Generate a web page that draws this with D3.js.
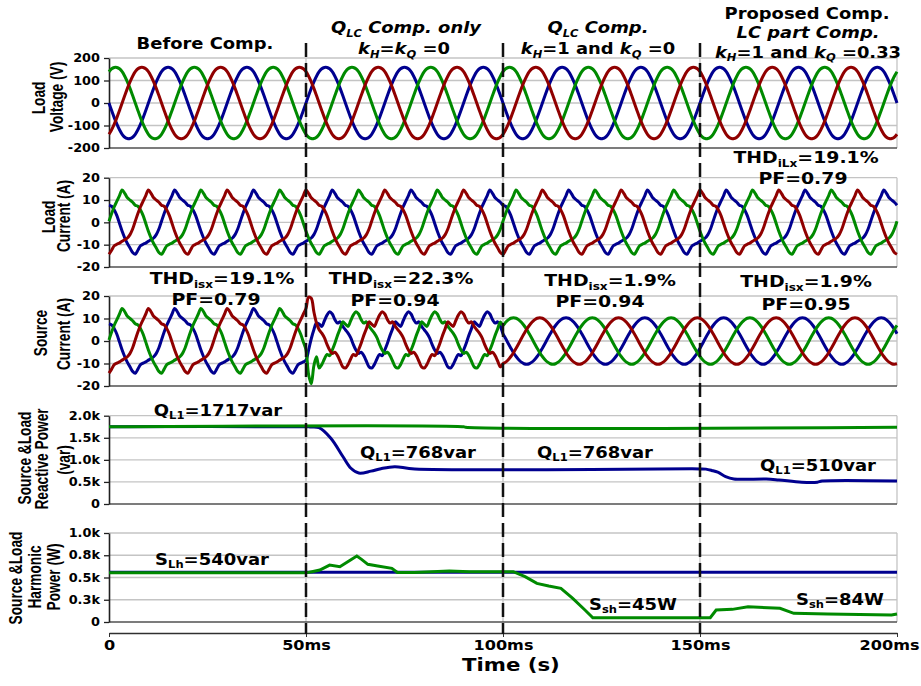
<!DOCTYPE html>
<html>
<head>
<meta charset="utf-8">
<title>Compensation waveforms</title>
<script src="https://cdn.jsdelivr.net/npm/d3@7"></script>
<style>
  body { margin: 0; background: #fff; }
  svg text { font-family: "DejaVu Sans", Verdana, sans-serif; font-weight: bold; fill: #000; }
</style>
</head>
<body>
<script>
// one 20 ms period of phase a, one sample every 20/30 ms
const voltageCycle = [0, -33, -65, -94, -119, -139, -152, -158, -158, -152, -139, -119, -94, -65, -33,
                      0, 33, 65, 94, 119, 139, 152, 158, 158, 152, 139, 119, 94, 65, 33];
const loadCurrentCycle = [7.7, 7.2, 5.5, 3, -0.5, -4, -7, -9.5, -11.5, -13.5, -14.3, -12.5, -10.5, -9.8, -9.3,
                          -8.5, -7.8, -7, -5.5, -3, 0.5, 4, 7, 9.5, 12, 14.5, 13, 11, 10, 9];
const sourceQlcCycle = [5, 3.5, 1.5, -1.5, -4, -5.5, -5, -6.5, -9, -11.5, -12, -10.5, -8, -6, -6.5,
                        -4, -1, 2.5, 5.5, 8.5, 7.5, 6.5, 9, 11.5, 13, 12, 9.5, 8, 8.5, 6.5];
const sourceSineCycle = [3.2, 1.1, -1.1, -3.2, -5.2, -6.9, -8.3, -9.4, -10.1, -10.3, -10.1, -9.4, -8.3, -6.9, -5.2,
                         -3.2, -1.1, 1.1, 3.2, 5.2, 6.9, 8.3, 9.4, 10.1, 10.3, 10.1, 9.4, 8.3, 6.9, 5.2];

// switching transient of the source current, 50 .. 52.67 ms
const transientBlue  = [-8.5, -4, 1, 5, 8];
const transientGreen = [-4, -15, -19, -11, -7];
const transientRed   = [14.5, 19.5, 19, 13, 8];

// reactive power (var)
const reactiveSourceTime = [0, 50, 51, 53.3, 56.3, 59.4, 61.4, 63.4, 66.5, 69, 72.5, 77.6, 150, 151.5, 153, 154.5, 156.5, 158.6, 166.8, 170, 175.8, 179.8, 181, 200];
const reactiveSource     = [1750, 1750, 1745, 1730, 1490, 1070, 810, 700, 745, 800, 845, 795, 795, 790, 760, 720, 620, 566, 566, 545, 495, 495, 520, 520];
const reactiveLoadTime = [0, 90, 90.5, 200];
const reactiveLoad     = [1750, 1750, 1738, 1738];

// harmonic power (W)
const harmonicLoadTime = [0, 200];
const harmonicLoad     = [558, 558];
const harmonicSourceTime = [0, 50, 51.5, 53.5, 56, 58.6, 60.6, 62.9, 64.1, 65.7, 68.2, 71.8, 73.2, 77.5, 86.4, 91.5, 102.6, 105.6, 108.6, 111.6, 114.7, 117.7, 120.8, 122.8, 152.6, 154.1, 158.2, 162.2, 170.3, 173.8, 182.4, 198.6, 200];
const harmonicSource     = [552, 552, 565, 584, 640, 621, 678, 742, 704, 648, 629, 603, 556, 556, 573, 566, 566, 509, 434, 404, 378, 266, 135, 48, 48, 135, 142, 172, 154, 97, 90, 79, 90];

const timeTicks = [0, 50, 100, 150, 200];
const switchTimes = [50, 100, 150];

const w = 921, h = 686;
const SX = 1.15;
const colors = { blue: "#00008f", red: "#900000", green: "#008a00" };
const shifts = { blue: 0, green: 10, red: 20 };
const step = 20 / 30;

const svg = d3.select("body").append("svg").attr("width", w).attr("height", h);

const x = d3.scaleLinear().domain([0, 200]).range([109, 897]);

// text with sub/italic parts, stretched horizontally like the original figure
function rich(x0, y0, parts, size, opts = {}) {
  const sx = opts.sx || SX;
  const t = svg.append("text")
    .attr("transform", `translate(${x0},${y0}) scale(${sx},1)`)
    .attr("text-anchor", opts.anchor || "middle")
    .attr("font-size", size);
  if (opts.italic) t.attr("font-style", "italic");
  let down = false;
  const off = size * 0.22;
  parts.forEach(p => {
    const o = typeof p === "string" ? { t: p } : p;
    const sp = t.append("tspan").text(o.sub !== undefined ? o.sub : o.t);
    if (o.sub !== undefined) {
      sp.attr("font-size", size * 0.64);
      if (!down) { sp.attr("dy", off); down = true; }
    } else if (down) {
      sp.attr("dy", -off); down = false;
    }
    if (o.it) sp.attr("font-style", "italic");
  });
  return t;
}

function rotTitle(x0, y0, txt, size) {
  svg.append("text")
    .attr("transform", `translate(${x0},${y0}) scale(1.3,1) rotate(-90)`)
    .attr("text-anchor", "middle")
    .style("font-family", "'Liberation Sans', Arial, sans-serif")
    .attr("font-size", size)
    .text(txt);
}

const panels = [
  { top: 58, bottom: 148, domain: [-200, 200], ticks: [-200, -100, 0, 100, 200], fmt: d => d,
    titles: [["Load", 45, 98], ["Voltage (V)", 63, 97]] },
  { top: 177.7, bottom: 267, domain: [-20, 20], ticks: [-20, -10, 0, 10, 20], fmt: d => d,
    titles: [["Load", 55, 217], ["Current (A)", 70, 216]] },
  { top: 296, bottom: 386, domain: [-20, 20], ticks: [-20, -10, 0, 10, 20], fmt: d => d,
    titles: [["Source", 47, 333], ["Current (A)", 70, 334]] },
  { top: 415.7, bottom: 504, domain: [0, 2000], ticks: [0, 500, 1000, 1500, 2000], fmt: d => d === 0 ? "0" : (d / 1000).toFixed(1) + "k",
    titles: [["Source &Load", 31, 458], ["Reactive Power", 48, 459], ["(var)", 70, 460]] },
  { top: 533, bottom: 622, domain: [0, 1000], ticks: [0, 250, 500, 750, 1000], fmt: d => d === 0 ? "0" : (d / 1000).toFixed(1) + "k",
    titles: [["Source &Load", 22, 578], ["Harmonic", 41, 577], ["Power (W)", 60, 577]] }
];

panels.forEach(p => {
  p.y = d3.scaleLinear().domain(p.domain).range([p.bottom, p.top]);
  const g = svg.append("g");
  // grid
  g.selectAll(".hg").data(p.ticks.slice(1)).enter().append("line")
    .attr("x1", x(0)).attr("x2", x(200))
    .attr("y1", d => p.y(d)).attr("y2", d => p.y(d))
    .attr("stroke", "#c4c4c4").attr("stroke-width", 1.3);
  g.selectAll(".vg").data(timeTicks.slice(1)).enter().append("line")
    .attr("x1", d => x(d)).attr("x2", d => x(d))
    .attr("y1", p.top).attr("y2", p.bottom)
    .attr("stroke", "#c4c4c4").attr("stroke-width", 1.3);
  g.append("line").attr("x1", x(0)).attr("x2", x(200))
    .attr("y1", p.bottom).attr("y2", p.bottom)
    .attr("stroke", "#505050").attr("stroke-width", 1.5);
  // axis
  const ax = g.append("g").attr("transform", `translate(${x(0)},0)`)
    .call(d3.axisLeft(p.y).tickValues(p.ticks).tickFormat(p.fmt).tickSize(5).tickSizeOuter(0));
  ax.select(".domain").attr("stroke", "#202020").attr("stroke-width", 1.6);
  ax.selectAll(".tick line").attr("stroke", "#202020").attr("stroke-width", 1.3);
  ax.selectAll(".tick text")
    .attr("transform", `scale(${1.12},1)`)
    .attr("x", -9 / 1.12)
    .attr("font-size", 11.5)
    .attr("font-family", null);
  p.titles.forEach(t => rotTitle(t[1], t[2], t[0], 13.7));
});

// x axis
const xAxisY = 633;
const xa = svg.append("g").attr("transform", `translate(0,${xAxisY})`)
  .call(d3.axisBottom(x).tickValues(timeTicks).tickFormat(d => d === 0 ? "0" : d + "ms").tickSize(4).tickSizeOuter(0));
xa.select(".domain").attr("stroke", "#303030").attr("stroke-width", 1.5);
xa.selectAll(".tick line").attr("stroke", "#303030");
xa.selectAll(".tick text")
  .attr("transform", `scale(${SX},1)`)
  .attr("y", 17).attr("dy", 0)
  .attr("font-size", 14)
  .attr("font-family", null)
  .attr("x", 0);
// last label kept inside the picture
xa.selectAll(".tick text").filter(d => d === 200)
  .attr("text-anchor", "end").attr("x", 22 / SX);
svg.append("text")
  .attr("transform", `translate(${x(102)},671) scale(${SX},1)`)
  .attr("text-anchor", "middle").attr("font-size", 18.5)
  .text("Time (s)");

// waveform series
function tiled(cycle, phase, j0, j1) {
  const pts = [];
  for (let j = j0; j <= j1; j++) pts.push([j * step, cycle[((j - shifts[phase]) % 30 + 30) % 30]]);
  return pts;
}
const transient = { blue: transientBlue, green: transientGreen, red: transientRed };
function sourceSeries(phase) {
  const pts = tiled(loadCurrentCycle, phase, 0, 74);
  transient[phase].forEach((v, i) => pts.push([(75 + i) * step, v]));
  return pts.concat(tiled(sourceQlcCycle, phase, 80, 149), tiled(sourceSineCycle, phase, 150, 300));
}

const order = ["blue", "green", "red"];
function drawLines(p, series, width) {
  const line = d3.line().x(d => x(d[0])).y(d => p.y(d[1])).curve(d3.curveCatmullRom);
  series.forEach(s => {
    svg.append("path").datum(s.pts).attr("d", line)
      .attr("fill", "none").attr("stroke", colors[s.c])
      .attr("stroke-width", width).attr("stroke-linejoin", "round");
  });
}
drawLines(panels[0], order.map(c => ({ c, pts: tiled(voltageCycle, c, 0, 300) })), 3);
drawLines(panels[1], order.map(c => ({ c, pts: tiled(loadCurrentCycle, c, 0, 300) })), 3);
drawLines(panels[2], order.map(c => ({ c, pts: sourceSeries(c) })), 3);
const zip = (t, v) => t.map((d, i) => [d, v[i]]);
drawLines(panels[3], [{ c: "blue", pts: zip(reactiveSourceTime, reactiveSource) },
                      { c: "green", pts: zip(reactiveLoadTime, reactiveLoad) }], 3);
const linLine = d3.line().x(d => x(d[0])).y(d => panels[4].y(d[1]));
[{ c: "blue", pts: zip(harmonicLoadTime, harmonicLoad) },
 { c: "green", pts: zip(harmonicSourceTime, harmonicSource) }].forEach(s => {
  svg.append("path").datum(s.pts).attr("d", linLine).attr("fill", "none")
    .attr("stroke", colors[s.c]).attr("stroke-width", 3);
});

// switching instants
svg.selectAll(".sw").data(switchTimes).enter().append("line")
  .attr("x1", d => x(d)).attr("x2", d => x(d))
  .attr("y1", 43).attr("y2", 634)
  .attr("stroke", "#111").attr("stroke-width", 2.5)
  .attr("stroke-dasharray", "14,6");

// headers
rich(205, 49, ["Before Comp."], 16, { sx: 1.12 });
rich(406, 33, [{ t: "Q" }, { sub: "LC" }, " Comp. only"], 16, { sx: 1.12, italic: true });
rich(404, 54, [{ t: "k", it: 1 }, { sub: "H", it: 1 }, "=", { t: "k", it: 1 }, { sub: "Q", it: 1 }, " =0"], 16, { sx: 1.12 });
rich(598, 33, [{ t: "Q" }, { sub: "LC" }, " Comp."], 16, { sx: 1.12, italic: true });
rich(598, 54, [{ t: "k", it: 1 }, { sub: "H", it: 1 }, "=1 and ", { t: "k", it: 1 }, { sub: "Q", it: 1 }, " =0"], 16, { sx: 1.12 });
rich(807, 18.5, ["Proposed Comp."], 16, { sx: 1.12 });
rich(808, 38, ["LC part Comp."], 16, { sx: 1.12, italic: true });
rich(808, 57.5, [{ t: "k", it: 1 }, { sub: "H", it: 1 }, "=1 and ", { t: "k", it: 1 }, { sub: "Q", it: 1 }, " =0.33"], 16, { sx: 1.12 });

// THD / PF notes
rich(806, 163, ["THD", { sub: "iLx" }, "=19.1%"], 16, { sx: 1.18 });
rich(803, 184, ["PF=0.79"], 16, { sx: 1.18 });
rich(222, 284, ["THD", { sub: "isx" }, "=19.1%"], 16, { sx: 1.18 });
rich(216, 305, ["PF=0.79"], 16, { sx: 1.18 });
rich(401, 284, ["THD", { sub: "isx" }, "=22.3%"], 16, { sx: 1.18 });
rich(395, 306, ["PF=0.94"], 16, { sx: 1.18 });
rich(610, 286, ["THD", { sub: "isx" }, "=1.9%"], 16, { sx: 1.18 });
rich(600, 307, ["PF=0.94"], 16, { sx: 1.18 });
rich(806, 287, ["THD", { sub: "isx" }, "=1.9%"], 16, { sx: 1.18 });
rich(806, 310, ["PF=0.95"], 16, { sx: 1.18 });

// power notes
rich(218, 416, ["Q", { sub: "L1" }, "=1717var"], 15, { sx: 1.2 });
rich(418, 458, ["Q", { sub: "L1" }, "=768var"], 15, { sx: 1.2 });
rich(595, 458, ["Q", { sub: "L1" }, "=768var"], 15, { sx: 1.2 });
rich(818, 471, ["Q", { sub: "L1" }, "=510var"], 15, { sx: 1.2 });
rich(212, 565, ["S", { sub: "Lh" }, "=540var"], 15, { sx: 1.2 });
rich(633, 610, ["S", { sub: "sh" }, "=45W"], 15, { sx: 1.2 });
rich(840, 605, ["S", { sub: "sh" }, "=84W"], 15, { sx: 1.2 });
</script>
</body>
</html>
